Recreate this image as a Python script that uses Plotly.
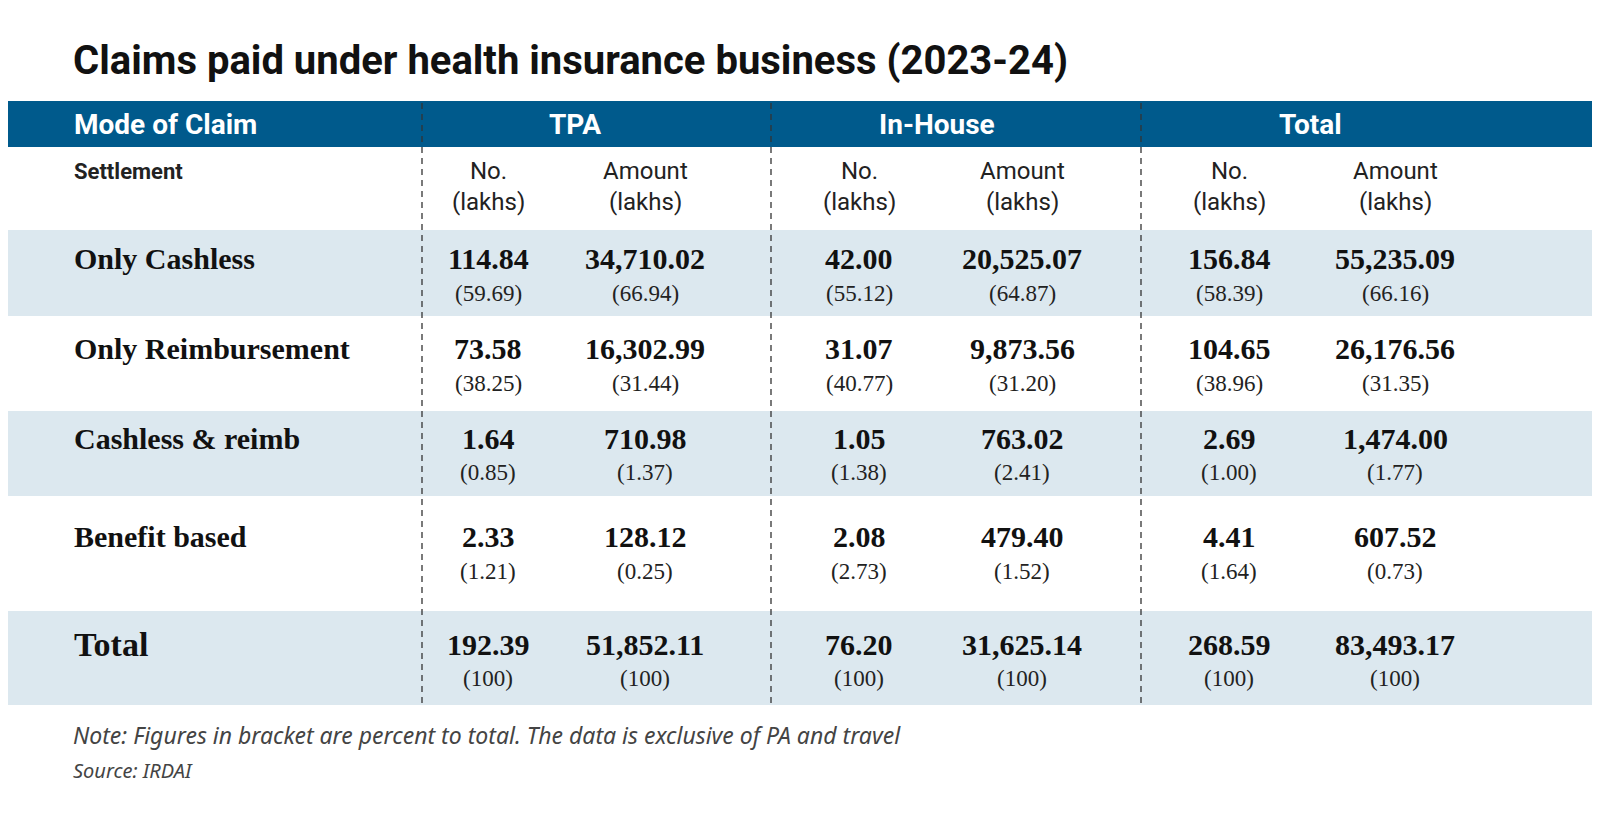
import plotly.graph_objects as go

# table data
rows = ["Only Cashless", "Only Reimbursement", "Cashless & reimb", "Benefit based", "Total"]
tpa_no = ["114.84", "73.58", "1.64", "2.33", "192.39"]
tpa_no_pct = ["(59.69)", "(38.25)", "(0.85)", "(1.21)", "(100)"]
tpa_amt = ["34,710.02", "16,302.99", "710.98", "128.12", "51,852.11"]
tpa_amt_pct = ["(66.94)", "(31.44)", "(1.37)", "(0.25)", "(100)"]
inh_no = ["42.00", "31.07", "1.05", "2.08", "76.20"]
inh_no_pct = ["(55.12)", "(40.77)", "(1.38)", "(2.73)", "(100)"]
inh_amt = ["20,525.07", "9,873.56", "763.02", "479.40", "31,625.14"]
inh_amt_pct = ["(64.87)", "(31.20)", "(2.41)", "(1.52)", "(100)"]
tot_no = ["156.84", "104.65", "2.69", "4.41", "268.59"]
tot_no_pct = ["(58.39)", "(38.96)", "(1.00)", "(1.64)", "(100)"]
tot_amt = ["55,235.09", "26,176.56", "1,474.00", "607.52", "83,493.17"]
tot_amt_pct = ["(66.16)", "(31.35)", "(1.77)", "(0.73)", "(100)"]
groups = ["TPA", "In-House", "Total"]

# layout geometry (pixels)
band_top = [222, 310, 403, 490, 603]
band_bot = [308, 400, 488, 600, 697]
val_y = [250, 340, 430, 528, 636]
pct_y = [285, 375, 464, 563, 670]
col_x = [480, 637, 851, 1014, 1221, 1387]
group_x = [567, 929, 1302]
sep_x = [414, 763, 1133]

BLUE = "#005a8c"
BAND = "#dce8ef"
SERIF = "Liberation Serif, DejaVu Serif, serif"
SANS = "Roboto, Noto Sans, sans-serif"

fig = go.Figure()
shapes = []
ann = []

shapes.append(dict(type="rect", x0=0, x1=1600, y0=93, y1=139, fillcolor=BLUE, line_width=0, layer="below"))
for i in range(len(rows)):
    if i % 2 == 0:
        shapes.append(dict(type="rect", x0=0, x1=1600, y0=band_top[i], y1=band_bot[i],
                           fillcolor=BAND, line_width=0, layer="below"))
for x in sep_x:
    shapes.append(dict(type="line", x0=x, x1=x, y0=95, y1=697,
                       line=dict(color="#333", width=1.3, dash="6px,5px")))

ann.append(dict(x=63, y=52, text="<b>Claims paid under health insurance business (2023-24)</b>",
                xanchor="left", font=dict(family="Liberation Sans Narrow, Roboto, sans-serif", size=40, color="#111")))
ann.append(dict(x=64, y=116, text="<b>Mode of Claim</b>", xanchor="left",
                font=dict(family=SANS, size=28, color="white")))
for gx, g in zip(group_x, groups):
    ann.append(dict(x=gx, y=116, text="<b>" + g + "</b>", font=dict(family=SANS, size=28, color="white")))
ann.append(dict(x=64, y=163, text="<b>Settlement</b>", xanchor="left",
                font=dict(family=SANS, size=22, color="#222")))
for k, cx in enumerate(col_x):
    lab = "No." if k % 2 == 0 else "Amount"
    ann.append(dict(x=cx, y=163, text=lab, font=dict(family=SANS, size=24, color="#222")))
    ann.append(dict(x=cx, y=194, text="(lakhs)", font=dict(family=SANS, size=24, color="#222")))

vals = [tpa_no, tpa_amt, inh_no, inh_amt, tot_no, tot_amt]
pcts = [tpa_no_pct, tpa_amt_pct, inh_no_pct, inh_amt_pct, tot_no_pct, tot_amt_pct]
for i, r in enumerate(rows):
    size = 34 if r == "Total" else 30
    ann.append(dict(x=64, y=val_y[i], text="<b>" + r + "</b>", xanchor="left",
                    font=dict(family=SERIF, size=size, color="#111")))
    for k, cx in enumerate(col_x):
        ann.append(dict(x=cx, y=val_y[i], text="<b>" + vals[k][i] + "</b>",
                        font=dict(family=SERIF, size=30, color="#111")))
        ann.append(dict(x=cx, y=pct_y[i], text=pcts[k][i],
                        font=dict(family=SERIF, size=23, color="#222")))

ann.append(dict(x=63, y=727, text="<i>Note: Figures in bracket are percent to total. The data is exclusive of PA and travel</i>",
                xanchor="left", font=dict(family="Noto Sans, sans-serif", size=23, color="#444")))
ann.append(dict(x=63, y=762, text="<i>Source: IRDAI</i>", xanchor="left",
                font=dict(family="Noto Sans, sans-serif", size=20, color="#444")))

for a in ann:
    a.update(xref="x", yref="y", showarrow=False, yanchor="middle")
    a.setdefault("xanchor", "center")

fig.update_layout(
    width=1600, height=817, margin=dict(l=0, r=0, t=0, b=0),
    paper_bgcolor="white", plot_bgcolor="white",
    xaxis=dict(range=[0, 1600], visible=False, fixedrange=True),
    yaxis=dict(range=[817, 0], visible=False, fixedrange=True),
    shapes=shapes, annotations=ann, showlegend=False,
)
fig.write_html("out.html")
